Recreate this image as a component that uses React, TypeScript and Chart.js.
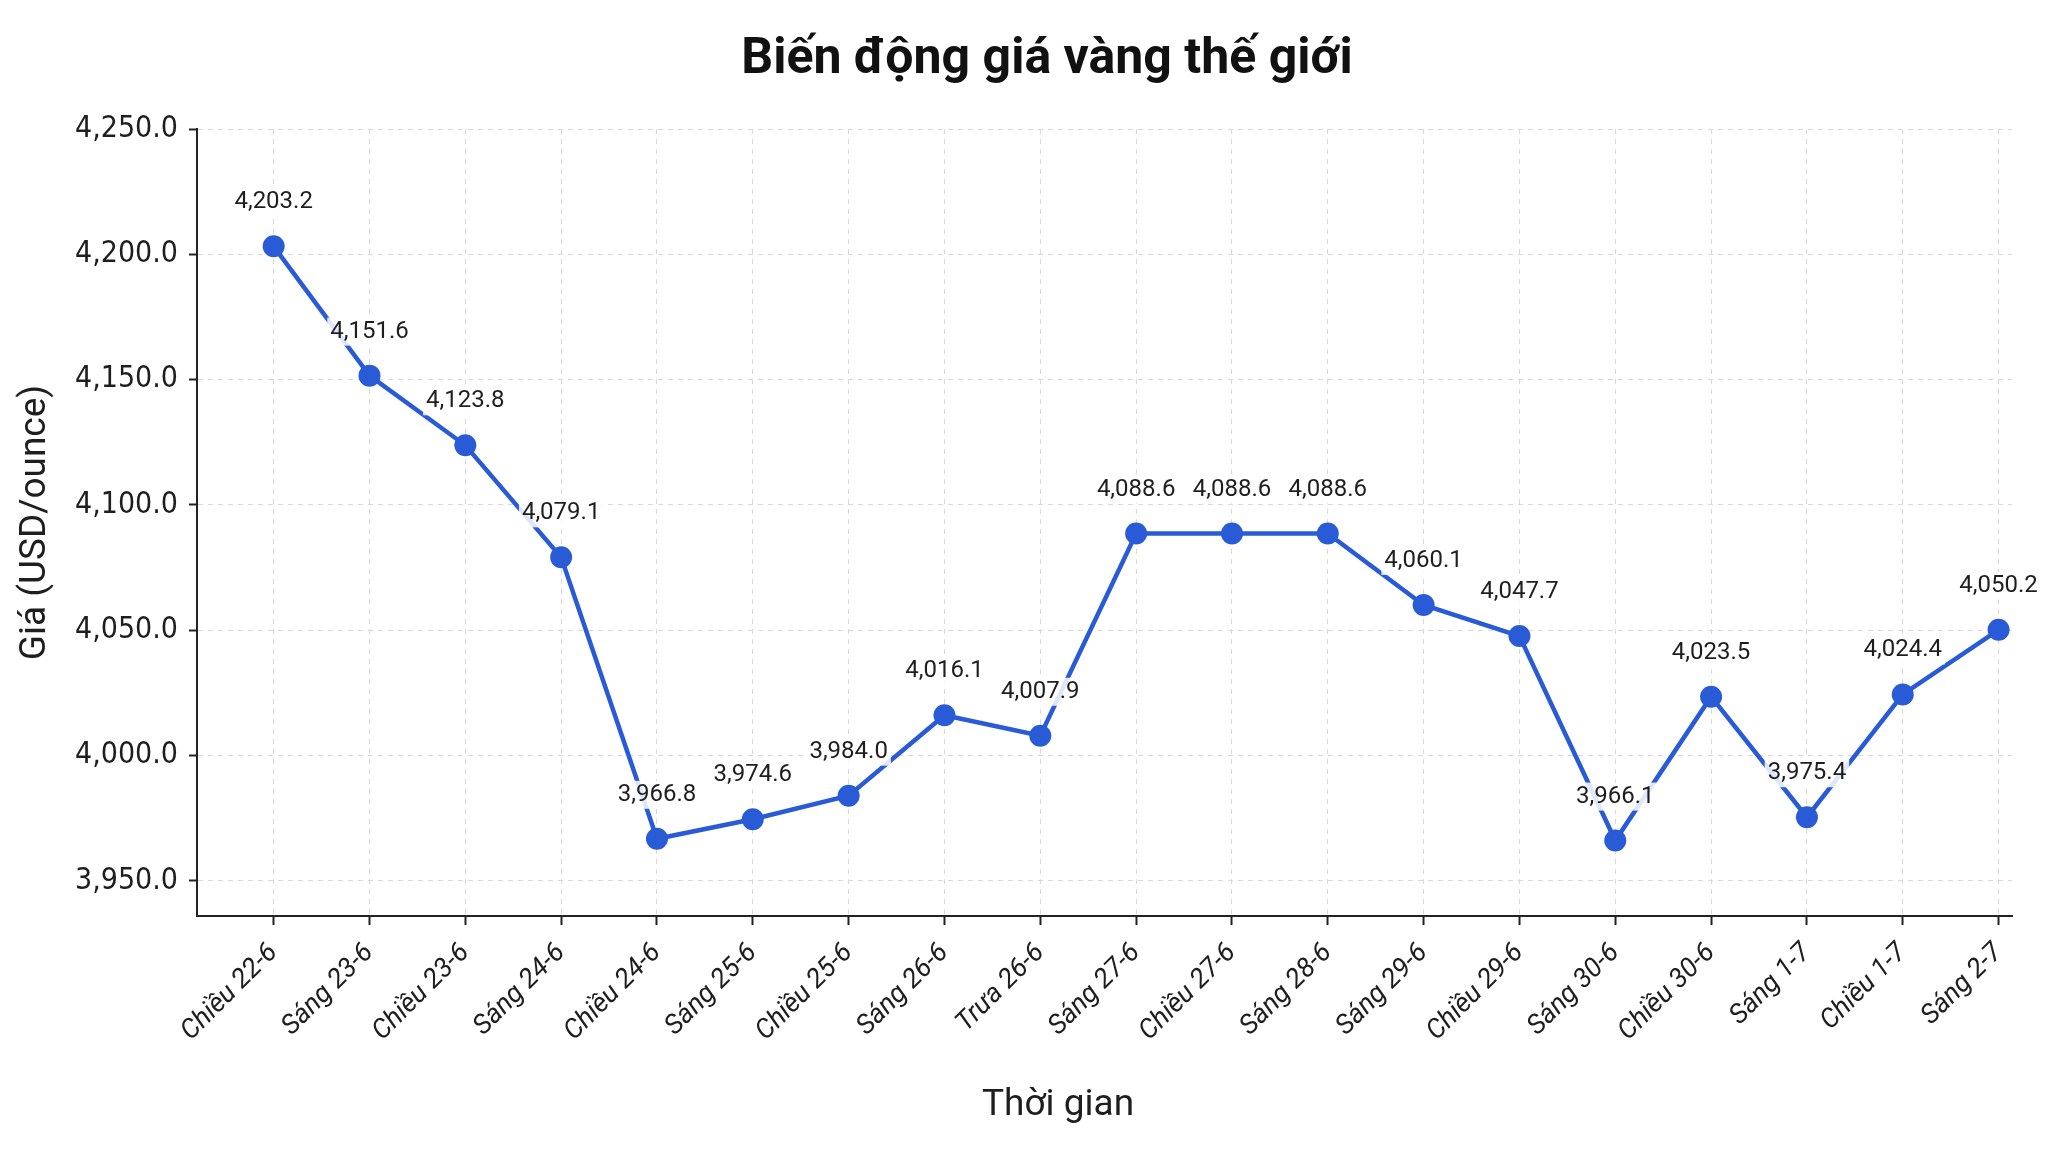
import React, { useEffect, useRef } from "react";
import { Chart, registerables } from "chart.js";

Chart.register(...registerables);

const chartTitle = "Biến động giá vàng thế giới";
const xAxisTitle = "Thời gian";
const yAxisTitle = "Giá (USD/ounce)";

const categories = [
  "Chiều 22-6",
  "Sáng 23-6",
  "Chiều 23-6",
  "Sáng 24-6",
  "Chiều 24-6",
  "Sáng 25-6",
  "Chiều 25-6",
  "Sáng 26-6",
  "Trưa 26-6",
  "Sáng 27-6",
  "Chiều 27-6",
  "Sáng 28-6",
  "Sáng 29-6",
  "Chiều 29-6",
  "Sáng 30-6",
  "Chiều 30-6",
  "Sáng 1-7",
  "Chiều 1-7",
  "Sáng 2-7",
];

const prices = [
  4203.2, 4151.6, 4123.8, 4079.1, 3966.8, 3974.6, 3984.0, 4016.1, 4007.9,
  4088.6, 4088.6, 4088.6, 4060.1, 4047.7, 3966.1, 4023.5, 3975.4, 4024.4,
  4050.2,
];

const yTickValues = [3950, 4000, 4050, 4100, 4150, 4200, 4250];
const yMin = 3936;
const yMax = 4250;
const xMin = -0.8;
const xMax = 18.14;

const LINE_COLOR = "#2a5bd7";
const TEXT_COLOR = "#1e1e1e";
const GRID_COLOR = "#d9d9d9";

const CANVAS_W = 2034;
const CANVAS_H = 1140;

const fmt = (v: number) =>
  v.toLocaleString("en-US", { minimumFractionDigits: 1, maximumFractionDigits: 1 });

const pointLabelPlugin = {
  id: "pointLabels",
  afterDatasetsDraw(chart: any) {
    const ctx = chart.ctx;
    const meta = chart.getDatasetMeta(0);
    ctx.save();
    ctx.font = "24px Roboto";
    ctx.textAlign = "center";
    ctx.textBaseline = "middle";
    meta.data.forEach((pt: any, i: number) => {
      const text = fmt(prices[i]);
      const x = pt.x;
      const y = pt.y - 44;
      const w = ctx.measureText(text).width;
      ctx.fillStyle = "rgba(255,255,255,0.85)";
      ctx.fillRect(x - w / 2 - 3, y - 14, w + 6, 28);
      ctx.fillStyle = TEXT_COLOR;
      ctx.fillText(text, x, y);
    });
    ctx.restore();
  },
};

const titlesPlugin = {
  id: "customTitles",
  afterDraw(chart: any) {
    const ctx = chart.ctx;
    ctx.save();
    ctx.fillStyle = "#111";
    ctx.textAlign = "center";
    ctx.textBaseline = "middle";
    ctx.font = "bold 50px Roboto";
    ctx.fillText(chartTitle, 1039, 52);
    ctx.fillStyle = TEXT_COLOR;
    ctx.font = "37px Roboto";
    ctx.fillText(xAxisTitle, 1050, 1098);
    ctx.restore();
  },
};

export default function App() {
  const canvasRef = useRef<HTMLCanvasElement | null>(null);

  useEffect(() => {
    if (!canvasRef.current) return;
    const chart = new Chart(canvasRef.current, {
      type: "line",
      data: {
        datasets: [
          {
            label: "Giá vàng",
            data: prices.map((p, i) => ({ x: i, y: p })),
            borderColor: LINE_COLOR,
            backgroundColor: LINE_COLOR,
            borderWidth: 4.5,
            pointRadius: 11,
            pointHoverRadius: 11,
            pointBackgroundColor: LINE_COLOR,
            pointBorderColor: LINE_COLOR,
            pointBorderWidth: 0,
            tension: 0,
            fill: false,
          },
        ],
      },
      options: {
        responsive: false,
        animation: false,
        layout: { padding: { top: 121, right: 30, left: 0, bottom: 0 } },
        plugins: {
          legend: { display: false },
          title: { display: false },
          tooltip: { enabled: false },
        },
        scales: {
          x: {
            type: "linear",
            min: xMin,
            max: xMax,
            afterBuildTicks: (scale: any) => {
              scale.ticks = categories.map((_, i) => ({ value: i }));
            },
            afterFit: (scale: any) => {
              scale.height = CANVAS_H - 908;
            },
            ticks: {
              autoSkip: false,
              minRotation: 45,
              maxRotation: 45,
              padding: 12,
              color: TEXT_COLOR,
              font: { family: "Roboto", size: 27, style: "italic" },
              callback: (v: any) => categories[Math.round(Number(v))] ?? "",
            },
            grid: {
              color: GRID_COLOR,
              lineWidth: 1,
              drawTicks: true,
              tickLength: 9,
              tickColor: "#222",
              tickWidth: 2,
              tickBorderDash: [],
            } as any,
            border: { display: true, color: "#222", width: 2, dash: [5, 5] } as any,
          },
          y: {
            type: "linear",
            min: yMin,
            max: yMax,
            afterBuildTicks: (scale: any) => {
              scale.ticks = yTickValues.map((v) => ({ value: v }));
            },
            afterFit: (scale: any) => {
              scale.width = 189;
            },
            ticks: {
              padding: 11,
              color: TEXT_COLOR,
              font: { family: "'DejaVu Sans Condensed', sans-serif", size: 30 },
              callback: (v: any) => fmt(Number(v)),
            },
            grid: {
              color: GRID_COLOR,
              lineWidth: 1,
              drawTicks: true,
              tickLength: 8,
              tickColor: "#222",
              tickWidth: 2,
              tickBorderDash: [],
            } as any,
            border: { display: true, color: "#222", width: 2, dash: [5, 5] } as any,
            title: {
              display: true,
              text: yAxisTitle,
              color: TEXT_COLOR,
              font: { family: "Roboto", size: 37 },
              padding: { top: 6, bottom: 20 },
            },
          },
        },
      } as any,
      plugins: [pointLabelPlugin, titlesPlugin],
    });
    return () => chart.destroy();
  }, []);

  return (
    <div style={{ width: CANVAS_W, height: CANVAS_H }}>
      <canvas ref={canvasRef} width={CANVAS_W} height={CANVAS_H} />
    </div>
  );
}
